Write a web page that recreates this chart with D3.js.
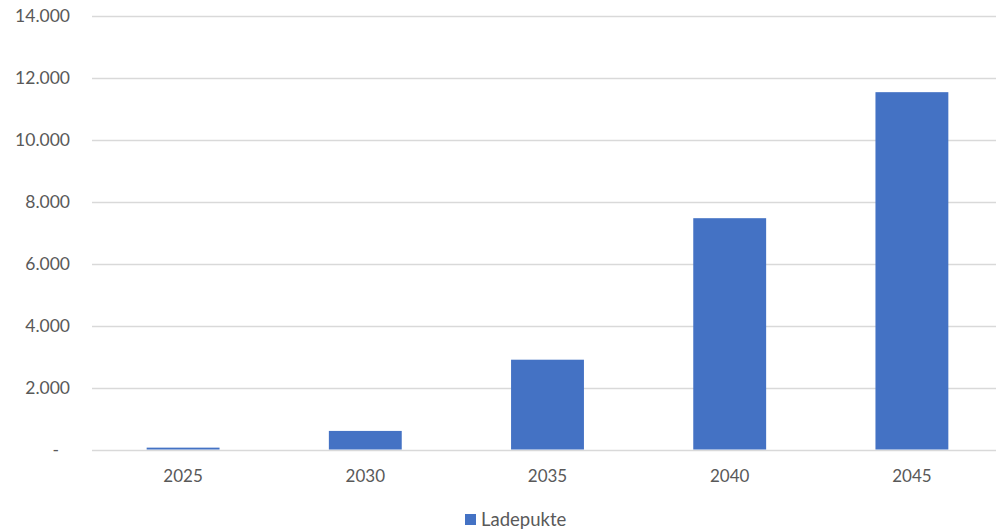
<!DOCTYPE html>
<html>
<head>
<meta charset="utf-8">
<script src="https://cdn.jsdelivr.net/npm/d3@7"></script>
<style>
    body { margin: 0; background: #fff; }
    svg text { font-family: Lato, "Open Sans", sans-serif; fill: #595959; }
</style>
</head>
<body>
<div id="chart"></div>
<script>
// chart data
const years = ['2025', '2030', '2035', '2040', '2045'];
const ladepunkte = [60, 600, 2900, 7470, 11540];
const yTicks = [0, 2000, 4000, 6000, 8000, 10000, 12000, 14000];
const seriesName = 'Ladepukte';

const width = 996,
    height = 529;

const svg = d3.select('#chart').append('svg')
    .attr('width', width)
    .attr('height', height);

const xScale = d3.scaleBand()
    .domain(years)
    .range([92, 1003])
    .paddingInner(0.6)
    .paddingOuter(0.3);

const yScale = d3.scaleLinear()
    .domain([0, 14000])
    .range([449.5, 16]);

const fmt = d => d === 0 ? '-' : d3.format(',')(d).replace(/,/g, '.');

// gridlines
svg.append('g')
    .selectAll('line')
    .data(yTicks)
    .enter()
    .append('line')
    .attr('x1', 92)
    .attr('x2', 1003)
    .attr('y1', d => Math.round(yScale(d)) + 0.5)
    .attr('y2', d => Math.round(yScale(d)) + 0.5)
    .attr('stroke', '#d9d9d9')
    .attr('stroke-width', 1.3);

// y labels
svg.append('g')
    .selectAll('text')
    .data(yTicks)
    .enter()
    .append('text')
    .attr('x', d => d === 0 ? 59 : 70)
    .attr('y', d => yScale(d))
    .attr('dy', '0.36em')
    .attr('text-anchor', 'end')
    .style('font-size', '17.5px')
    .text(fmt);

// bars
svg.append('g')
    .selectAll('rect')
    .data(ladepunkte)
    .enter()
    .append('rect')
    .attr('x', (d, i) => xScale(years[i]))
    .attr('y', d => yScale(d))
    .attr('width', xScale.bandwidth())
    .attr('height', d => yScale(0) - yScale(d))
    .attr('fill', '#4472c4');

// x labels
svg.append('g')
    .selectAll('text')
    .data(years)
    .enter()
    .append('text')
    .attr('x', d => xScale(d) + xScale.bandwidth() / 2)
    .attr('y', 482)
    .attr('text-anchor', 'middle')
    .style('font-size', '17px')
    .text(d => d);

// legend
const legend = svg.append('g');
legend.append('rect')
    .attr('x', 465)
    .attr('y', 514)
    .attr('width', 11)
    .attr('height', 11)
    .attr('fill', '#4472c4');
legend.append('text')
    .attr('x', 481)
    .attr('y', 525.5)
    .style('font-size', '18.5px')
    .text(seriesName);
</script>
</body>
</html>
